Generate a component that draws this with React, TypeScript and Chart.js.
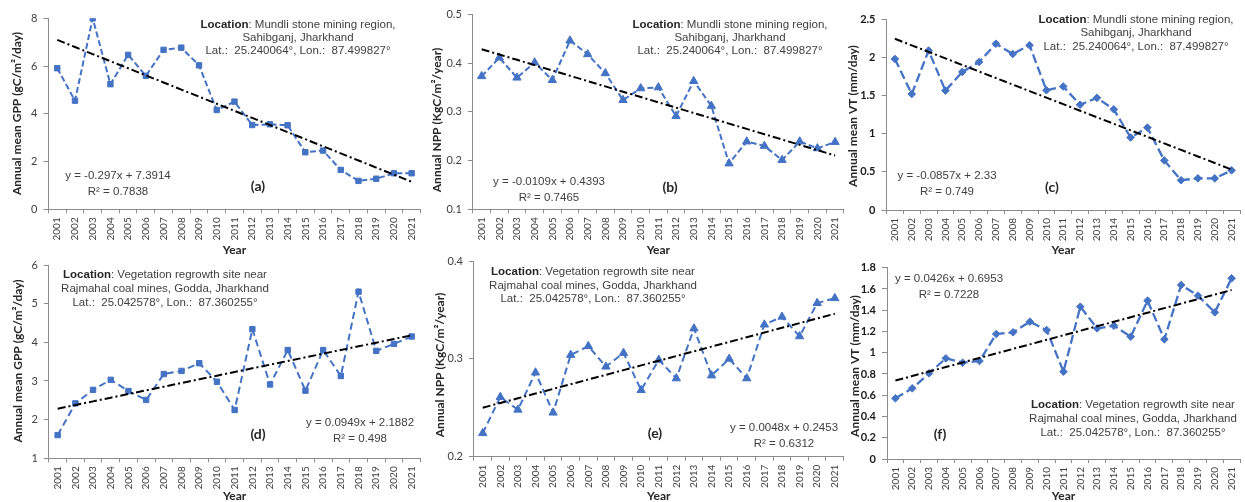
import React, { useEffect, useRef } from 'react';
import { Chart, registerables } from 'chart.js';

Chart.register(...registerables);

// ---------------- DATA ----------------
const years = ['2001', '2002', '2003', '2004', '2005', '2006', '2007', '2008', '2009', '2010', '2011', '2012', '2013', '2014', '2015', '2016', '2017', '2018', '2019', '2020', '2021'];

const gppMundli = [5.91, 4.55, 8.0, 5.24, 6.47, 5.59, 6.68, 6.77, 6.03, 4.16, 4.51, 3.53, 3.56, 3.52, 2.39, 2.46, 1.65, 1.19, 1.28, 1.51, 1.51];
const nppMundli = [0.373, 0.411, 0.37, 0.401, 0.365, 0.446, 0.418, 0.379, 0.324, 0.348, 0.35, 0.291, 0.363, 0.312, 0.194, 0.239, 0.23, 0.201, 0.239, 0.225, 0.238];
const vtMundli = [1.98, 1.52, 2.09, 1.565, 1.81, 1.94, 2.18, 2.045, 2.16, 1.57, 1.62, 1.38, 1.47, 1.32, 0.95, 1.08, 0.65, 0.39, 0.415, 0.415, 0.52];
const gppRajmahal = [1.6, 2.42, 2.77, 3.03, 2.74, 2.51, 3.18, 3.26, 3.46, 2.98, 2.25, 4.34, 2.91, 3.8, 2.75, 3.8, 3.13, 5.31, 3.78, 3.96, 4.15];
const nppRajmahal = [0.224, 0.261, 0.248, 0.286, 0.245, 0.304, 0.313, 0.292, 0.306, 0.268, 0.299, 0.28, 0.331, 0.283, 0.3, 0.28, 0.335, 0.343, 0.323, 0.357, 0.362];
const vtRajmahal = [0.571, 0.665, 0.806, 0.947, 0.906, 0.922, 1.176, 1.192, 1.292, 1.213, 0.822, 1.433, 1.229, 1.254, 1.151, 1.49, 1.126, 1.637, 1.537, 1.38, 1.7];

// trendline equations shown on the chart: [slope, intercept]
const gppMundliTrend = [-0.297, 7.3914];
const nppMundliTrend = [-0.0109, 0.4393];
const vtMundliTrend = [-0.0857, 2.33];
const gppRajmahalTrend = [0.0949, 2.1882];
const nppRajmahalTrend = [0.0048, 0.2453];
const vtRajmahalTrend = [0.0426, 0.6953];

// y-axis ranges: [min, max, step]
const gppMundliAxis = [0, 8, 2];
const nppMundliAxis = [0.1, 0.5, 0.1];
const vtMundliAxis = [0, 2.5, 0.5];
const gppRajmahalAxis = [1, 6, 1];
const nppRajmahalAxis = [0.2, 0.4, 0.1];
const vtRajmahalAxis = [0, 1.8, 0.2];

const mundliLocation = ['Mundli stone mining region,', 'Sahibganj, Jharkhand', 'Lat.:  25.240064°, Lon.:  87.499827°'];
const rajmahalLocation = ['Vegetation regrowth site near', 'Rajmahal coal mines, Godda, Jharkhand', 'Lat.:  25.042578°, Lon.:  87.360255°'];

// ---------------- STYLE ----------------
const BLUE = '#4472C4';
const AXIS = '#8c8c8c';
const TXT = '#404040';
const ANN_FONT = '"Liberation Sans", Arial, sans-serif';
const TICK_FONT = 'Lato, "Open Sans", sans-serif';

type TextItem = { text: string; bold?: string; x: number; y: number; size?: number; weight?: string; rot?: boolean; color?: string; family?: string };

type PanelDef = {
  id: string;
  values: number[];
  trend: number[];
  axis: number[];
  yTitle: string;
  pointStyle: string;
  pointRadius: number;
  dash: number[];
  lineWidth: number;
  boldTicks: boolean;
  cl: number; ct: number; cw: number; ch: number;
  L: number; R: number; T: number; B: number;
  yearPad: number;
  texts: TextItem[];
};

function locLines(lines: string[], x: number, ys: number[]): TextItem[] {
  return [
    { bold: 'Location', text: ': ' + lines[0], x, y: ys[0] },
    { text: lines[1], x, y: ys[1] },
    { text: lines[2], x, y: ys[2] },
  ];
}

function eqLines(trend: number[], r2: string, x: number, y: number): TextItem[] {
  const s = trend[0];
  const eq = 'y = ' + (s < 0 ? '-' : '') + Math.abs(s) + 'x + ' + trend[1];
  return [
    { text: eq, x, y },
    { text: 'R² = ' + r2, x, y: y + 15.5 },
  ];
}

const panels: PanelDef[] = [
  {
    id: 'a', values: gppMundli, trend: gppMundliTrend, axis: gppMundliAxis,
    yTitle: 'Annual mean GPP (gC/m²/day)', pointStyle: 'rect', pointRadius: 3.8, dash: [6, 3], lineWidth: 2, boldTicks: false,
    cl: 0, ct: 0, cw: 428, ch: 258, L: 48.4, R: 420.5, T: 18.3, B: 209.3, yearPad: 0.8,
    texts: [
      ...locLines(mundliLocation, 298, [24.5, 37.5, 50.5]),
      ...eqLines(gppMundliTrend, '0.7838', 118, 176),
      { text: '(a)', x: 258, y: 186, size: 14, weight: 'bold', family: TICK_FONT, color: '#262626' },
      { text: 'Annual mean GPP (gC/m²/day)', x: 17.5, y: 113.5, rot: true },
    ],
  },
  {
    id: 'b', values: nppMundli, trend: nppMundliTrend, axis: nppMundliAxis,
    yTitle: 'Annual NPP (KgC/m²/year)', pointStyle: 'triangle', pointRadius: 4.8, dash: [6, 3], lineWidth: 2, boldTicks: false,
    cl: 422, ct: 0, cw: 428, ch: 258, L: 472.8, R: 843.9, T: 14.3, B: 209.3, yearPad: 0.8,
    texts: [
      ...locLines(mundliLocation, 730, [24.5, 37.5, 50.5]),
      ...eqLines(nppMundliTrend, '0.7465', 549, 182),
      { text: '(b)', x: 670, y: 187, size: 14, weight: 'bold', family: TICK_FONT, color: '#262626' },
      { text: 'Annual NPP (KgC/m²/year)', x: 437, y: 120, rot: true },
    ],
  },
  {
    id: 'c', values: vtMundli, trend: vtMundliTrend, axis: vtMundliAxis,
    yTitle: 'Annual mean VT (mm/day)', pointStyle: 'rectRot', pointRadius: 3.8, dash: [9, 4], lineWidth: 2.3, boldTicks: true,
    cl: 840, ct: 0, cw: 405, ch: 258, L: 886.5, R: 1245, T: 19.3, B: 210, yearPad: 0.8,
    texts: [
      ...locLines(mundliLocation, 1136, [19.5, 33, 46.5]),
      ...eqLines(vtMundliTrend, '0.749', 947, 176),
      { text: '(c)', x: 1052, y: 187, size: 14, weight: 'bold', family: TICK_FONT, color: '#262626' },
      { text: 'Annual mean VT (mm/day)', x: 853, y: 116, rot: true },
    ],
  },
  {
    id: 'd', values: gppRajmahal, trend: gppRajmahalTrend, axis: gppRajmahalAxis,
    yTitle: 'Annual mean GPP (gC/m²/day)', pointStyle: 'rect', pointRadius: 3.8, dash: [7, 4], lineWidth: 2, boldTicks: false,
    cl: 0, ct: 250, cw: 428, ch: 260, L: 48.8, R: 420.5, T: 265, B: 458.3, yearPad: 6.8,
    texts: [
      ...locLines(rajmahalLocation, 165, [275, 289, 303]),
      ...eqLines(gppRajmahalTrend, '0.498', 360, 423),
      { text: '(d)', x: 258, y: 434, size: 14, weight: 'bold', family: TICK_FONT, color: '#262626' },
      { text: 'Annual mean GPP (gC/m²/day)', x: 18, y: 361, rot: true },
    ],
  },
  {
    id: 'e', values: nppRajmahal, trend: nppRajmahalTrend, axis: nppRajmahalAxis,
    yTitle: 'Annual NPP (KgC/m²/year)', pointStyle: 'triangle', pointRadius: 4.8, dash: [7, 4], lineWidth: 2, boldTicks: false,
    cl: 422, ct: 250, cw: 428, ch: 260, L: 473.9, R: 843.6, T: 261, B: 456.7, yearPad: 6.8,
    texts: [
      ...locLines(rajmahalLocation, 593, [272, 285.5, 299]),
      ...eqLines(nppRajmahalTrend, '0.6312', 784, 428),
      { text: '(e)', x: 655, y: 433, size: 14, weight: 'bold', family: TICK_FONT, color: '#262626' },
      { text: 'Annual NPP (KgC/m²/year)', x: 440, y: 365, rot: true },
    ],
  },
  {
    id: 'f', values: vtRajmahal, trend: vtRajmahalTrend, axis: vtRajmahalAxis,
    yTitle: 'Annual mean VT (mm/day)', pointStyle: 'rectRot', pointRadius: 3.8, dash: [9, 4], lineWidth: 2.3, boldTicks: true,
    cl: 840, ct: 250, cw: 405, ch: 260, L: 887, R: 1245, T: 267.7, B: 459, yearPad: 6.8,
    texts: [
      ...eqLines(vtRajmahalTrend, '0.7228', 949, 279),
      ...locLines(rajmahalLocation, 1133, [405, 419, 433]),
      { text: '(f)', x: 940, y: 434, size: 14, weight: 'bold', family: TICK_FONT, color: '#262626' },
      { text: 'Annual mean VT (mm/day)', x: 855, y: 366, rot: true },
    ],
  },
];

function textPlugin(p: PanelDef) {
  return {
    id: 'texts_' + p.id,
    afterDraw(chart: any) {
      const ctx: CanvasRenderingContext2D = chart.ctx;
      ctx.save();
      ctx.textBaseline = 'middle';
      for (const t of p.texts) {
        const x = t.x - p.cl;
        const y = t.y - p.ct;
        if (t.rot) {
          ctx.save();
          ctx.translate(x, y);
          ctx.rotate(-Math.PI / 2);
          ctx.font = 'bold 12px ' + TICK_FONT;
          ctx.fillStyle = '#262626';
          ctx.textAlign = 'center';
          ctx.fillText(t.text, 0, 0);
          ctx.restore();
          continue;
        }
        const size = t.size || 11.5;
        const fam = t.family || ANN_FONT;
        const regFont = (t.weight ? t.weight + ' ' : '') + size + 'px ' + fam;
        const boldFont = 'bold ' + size + 'px ' + fam;
        let bw = 0;
        if (t.bold) {
          ctx.font = boldFont;
          bw = ctx.measureText(t.bold).width;
        }
        ctx.font = regFont;
        const rw = ctx.measureText(t.text).width;
        let sx = x - (bw + rw) / 2;
        ctx.textAlign = 'left';
        if (t.bold) {
          ctx.font = boldFont;
          ctx.fillStyle = '#262626';
          ctx.fillText(t.bold, sx, y);
          sx += bw;
        }
        ctx.font = regFont;
        ctx.fillStyle = t.color || TXT;
        ctx.fillText(t.text, sx, y);
      }
      ctx.restore();
    },
  };
}

function buildConfig(p: PanelDef): any {
  const yW = p.L - p.cl;
  const xH = p.ct + p.ch - p.B;
  const trendData = years.map((_, i) => p.trend[0] * (i + 1) + p.trend[1]);
  return {
    type: 'line',
    data: {
      labels: years,
      datasets: [
        {
          label: 'Trend',
          data: trendData,
          borderColor: '#000000',
          borderWidth: 2,
          borderDash: [8, 3, 2, 3],
          pointRadius: 0,
          fill: false,
          tension: 0,
        },
        {
          label: p.yTitle,
          data: p.values,
          borderColor: BLUE,
          backgroundColor: BLUE,
          borderWidth: p.lineWidth,
          borderDash: p.dash,
          pointStyle: p.pointStyle,
          pointRadius: p.pointRadius,
          pointBorderWidth: 1,
          pointBorderColor: BLUE,
          pointBackgroundColor: BLUE,
          fill: false,
          tension: 0,
        },
      ],
    },
    options: {
      responsive: false,
      animation: false,
      devicePixelRatio: 1,
      events: [],
      layout: {
        padding: { left: 0, top: p.T - p.ct, right: p.cl + p.cw - p.R, bottom: 0 },
      },
      plugins: {
        legend: { display: false },
        tooltip: { enabled: false },
        title: { display: false },
      },
      scales: {
        x: {
          type: 'category',
          offset: true,
          grid: { display: true, drawOnChartArea: false, drawTicks: true, tickLength: 4, offset: true, color: AXIS, lineWidth: 1 },
          border: { display: true, color: AXIS, width: 1 },
          ticks: {
            autoSkip: false,
            minRotation: 90,
            maxRotation: 90,
            padding: 4,
            color: TXT,
            font: { family: TICK_FONT, size: 10 },
          },
          title: {
            display: true,
            text: 'Year',
            color: '#262626',
            font: { family: TICK_FONT, size: 12, weight: 'bold' },
            padding: { top: 0, bottom: p.yearPad },
          },
          afterFit: (s: any) => {
            s.height = xH;
            s.paddingLeft = 0;
            s.paddingRight = 0;
          },
        },
        y: {
          type: 'linear',
          min: p.axis[0],
          max: p.axis[1],
          grid: { display: true, drawOnChartArea: false, drawTicks: true, tickLength: 5, color: AXIS, lineWidth: 1 },
          border: { display: true, color: AXIS, width: 1 },
          ticks: {
            stepSize: p.axis[2],
            padding: 6,
            color: p.boldTicks ? '#1a1a1a' : TXT,
            font: { family: TICK_FONT, size: 11, weight: p.boldTicks ? 'bold' : 'normal' },
            callback: (v: any) => String(parseFloat(Number(v).toFixed(3))),
          },
          afterFit: (s: any) => {
            s.width = yW;
            s.paddingTop = 0;
            s.paddingBottom = 0;
          },
        },
      },
    },
    plugins: [textPlugin(p)],
  };
}

function Panel({ p }: { p: PanelDef }) {
  const ref = useRef<HTMLCanvasElement>(null);
  useEffect(() => {
    if (!ref.current) return;
    const chart = new Chart(ref.current, buildConfig(p));
    return () => chart.destroy();
  }, [p]);
  return (
    <canvas
      ref={ref}
      width={p.cw}
      height={p.ch}
      style={{ position: 'absolute', left: p.cl, top: p.ct, width: p.cw, height: p.ch }}
    />
  );
}

export default function App() {
  return (
    <div
      style={{
        position: 'fixed',
        left: 0,
        top: 0,
        width: 1245,
        height: 502,
        overflow: 'hidden',
        background: '#ffffff',
      }}
    >
      {panels.map((p) => (
        <Panel key={p.id} p={p} />
      ))}
    </div>
  );
}
